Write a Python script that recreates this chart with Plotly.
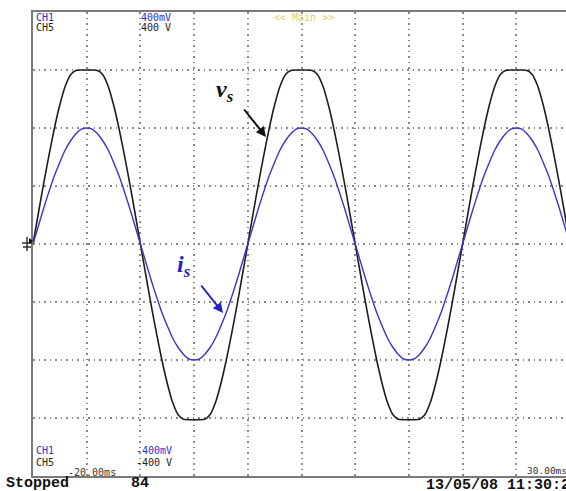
import plotly.graph_objects as go

# time axis (ms), 0.5 ms steps, -20 .. 30
time_ms = [i * 0.5 for i in range(-40, 61)]

# CH5: supply voltage v_s (V) (100 V/div)
vs_volts = [
    0, 53, 105, 154, 200, 240, 272, 292, 299, 300, 300, 300, 299, 292, 272, 240, 200, 154, 105, 53,
    0, -53, -105, -154, -200, -240, -273, -294, -302, -303, -303, -303, -302, -294, -273, -240, -200, -154, -105, -53,
    0, 53, 105, 154, 200, 240, 272, 292, 299, 300, 300, 300, 299, 292, 272, 240, 200, 154, 105, 53,
    0, -53, -105, -154, -200, -240, -273, -294, -302, -303, -303, -303, -302, -294, -273, -240, -200, -154, -105, -53,
    0, 53, 105, 154, 200, 240, 272, 292, 299, 300, 300, 300, 299, 292, 272, 240, 200, 154, 105, 53,
    0,
]

# CH1: supply current i_s probe output (mV), 100 mV/div
is_mv = [
    0, 31, 62, 91, 118, 141, 162, 178, 190, 198, 200, 198, 190, 178, 162, 141, 118, 91, 62, 31,
    0, -31, -62, -91, -118, -141, -162, -178, -190, -198, -200, -198, -190, -178, -162, -141, -118, -91, -62, -31,
    0, 31, 62, 91, 118, 141, 162, 178, 190, 198, 200, 198, 190, 178, 162, 141, 118, 91, 62, 31,
    0, -31, -62, -91, -118, -141, -162, -178, -190, -198, -200, -198, -190, -178, -162, -141, -118, -91, -62, -31,
    0, 31, 62, 91, 118, 141, 162, 178, 190, 198, 200, 198, 190, 178, 162, 141, 118, 91, 62, 31,
    0,
]

W, H = 566, 491
L, T, B = 33, 12, 15
PW, PH = W - L, H - T - B


def px(x):
    return (x - L) / PW


def py(y):
    return (H - B - y) / PH


fig = go.Figure()
fig.add_trace(go.Scatter(x=time_ms, y=vs_volts, mode="lines", line=dict(color="#1e1e1e", width=1.6, shape="spline", smoothing=0.6), hoverinfo="skip"))
fig.add_trace(go.Scatter(x=time_ms, y=is_mv, mode="lines", line=dict(color="#3a36c8", width=1.4, shape="spline", smoothing=0.6), hoverinfo="skip"))

grid = dict(showgrid=True, gridcolor="#8a8a8a", griddash="1.5px,4px", gridwidth=1.5,
            zeroline=False, showticklabels=False, ticks="")
fig.update_xaxes(range=[-20, -20 + 50 * PW / 537], tick0=-20, dtick=5,
                 showline=True, mirror=True, linecolor="#7a7a7a", linewidth=2, **grid)
fig.update_yaxes(range=[-400, 400], tick0=0, dtick=100,
                 showline=True, mirror=False, linecolor="#7a7a7a", linewidth=2, **grid)

mono = "DejaVu Sans Mono"
ann = []


def txt(s, x, y, color, size=10, family=mono, anchor="left"):
    ann.append(dict(text=s, x=px(x), y=py(y), xref="paper", yref="paper", showarrow=False,
                    xanchor=anchor, yanchor="middle", font=dict(family=family, size=size, color=color)))


blue_t = "#3030c8"
txt("CH1", 34, 17, blue_t)
txt("CH5", 34, 27, "#222")
txt("400mV", 139, 17, blue_t)
txt("400 V", 139, 27, "#222")
txt("&lt;&lt; Main &gt;&gt;", 272, 17, "#d6d26a")
txt("CH1", 34, 450, blue_t)
txt("CH5", 34, 462, "#222")
txt("-400mV", 134, 450, blue_t)
txt("-400 V", 134, 462, "#222")
txt("-20.00ms", 66, 472, "#333")
txt("30.00ms", 525, 470, "#333", size=9.5)
txt("<b>Stopped</b>", 4, 484, "#111", size=15, family="Liberation Mono")
txt("<b>84</b>", 129, 484, "#111", size=15, family="Liberation Mono")
txt("<b>13/05/08 11:30:20</b>", 424, 485, "#111", size=15, family="Liberation Mono")

# signal labels with arrows
txt("<b><i>v<sub>s</sub></i></b>", 214, 91, "#111", size=24, family="Liberation Serif")
txt("<b><i>i<sub>s</sub></i></b>", 175, 266, "#2424c0", size=24, family="Liberation Serif")
ann.append(dict(text="", x=px(266), y=py(137), xref="paper", yref="paper", ax=-23, ay=-29,
                showarrow=True, arrowhead=2, arrowsize=1, arrowwidth=2, arrowcolor="#111"))
ann.append(dict(text="", x=px(223), y=py(313), xref="paper", yref="paper", ax=-23, ay=-29,
                showarrow=True, arrowhead=2, arrowsize=1, arrowwidth=2, arrowcolor="#2424c0"))

shapes = [
    dict(type="line", xref="paper", yref="paper", x0=px(27), x1=px(27), y0=py(237), y1=py(251), line=dict(color="#333", width=1.5)),
    dict(type="line", xref="paper", yref="paper", x0=px(22), x1=px(32), y0=py(243), y1=py(243), line=dict(color="#333", width=1.5)),
    dict(type="line", xref="paper", yref="paper", x0=px(23), x1=px(31), y0=py(247), y1=py(247), line=dict(color="#333", width=1.5)),
    dict(type="path", xref="paper", yref="paper",
         path=f"M {px(29)} {py(238)} L {px(33)} {py(241)} L {px(29)} {py(244)} Z",
         fillcolor="#111", line=dict(width=0)),
]

fig.update_layout(width=W, height=H, margin=dict(l=L, r=0, t=T, b=B),
                  paper_bgcolor="white", plot_bgcolor="white", showlegend=False,
                  annotations=ann, shapes=shapes)
fig.write_html("out.html", config={"displayModeBar": False},
               post_script="document.body.style.margin='0';document.body.style.overflow='hidden';")
